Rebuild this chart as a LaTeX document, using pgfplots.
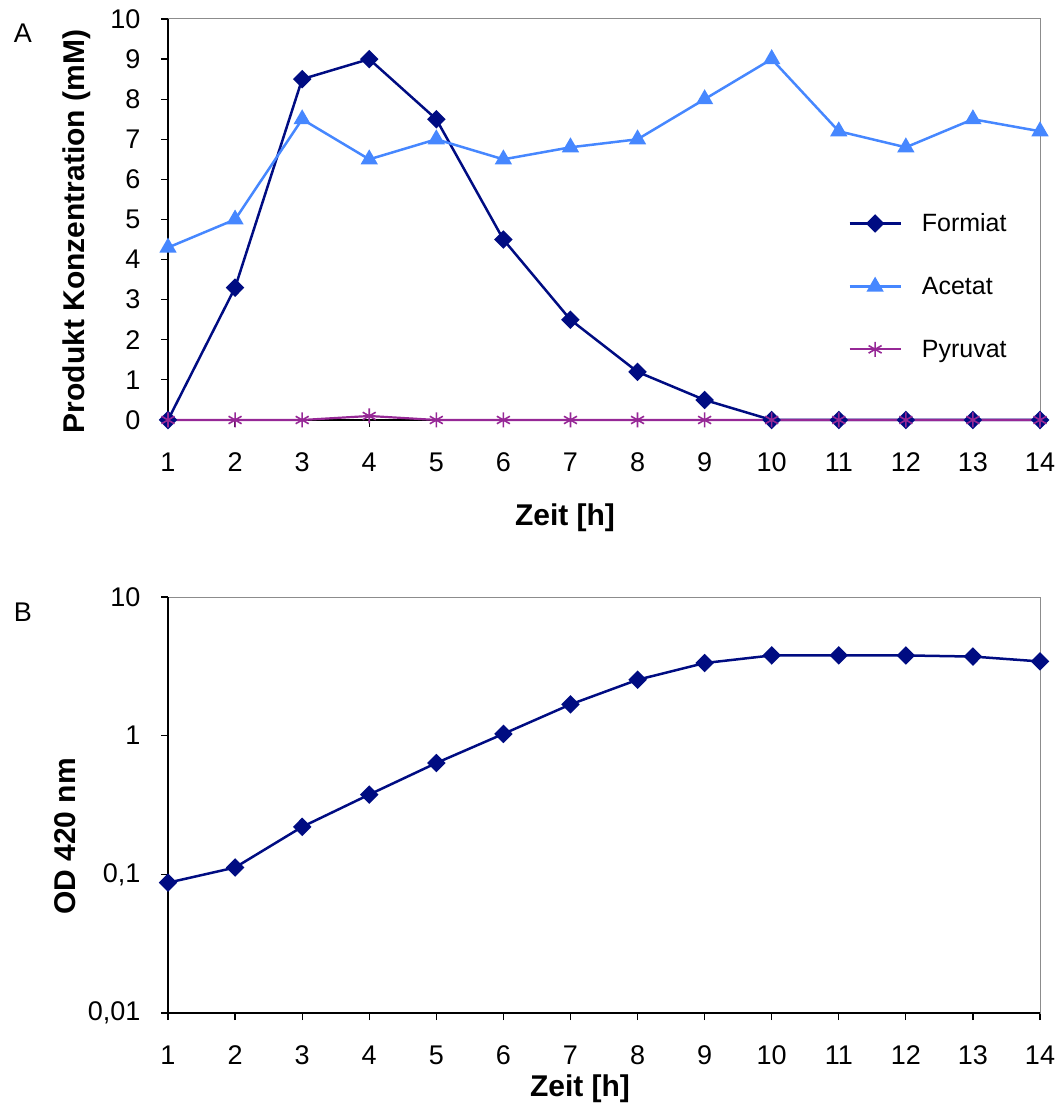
\documentclass[border=0pt]{standalone}
\usepackage{fontspec}
\setmainfont{Liberation Sans}
\usepackage{pgfplots}
\pgfplotsset{compat=1.18}
\definecolor{formiat}{RGB}{0,12,130}
\definecolor{acetat}{RGB}{70,135,255}
\definecolor{pyruvat}{RGB}{150,40,150}
\definecolor{frame}{RGB}{140,140,140}
\begin{document}
\begin{tikzpicture}
\useasboundingbox (0pt,0pt) rectangle (1059pt,1103pt);
\pgfplotsset{
  every axis/.append style={
    scale only axis, width=872pt,
    xmin=1, xmax=14, xtick={1,...,14},
    tick align=outside, major tick length=7pt,
    xtick pos=bottom, ytick pos=left,
    axis line style={draw=frame, line width=1pt},
    every tick/.style={draw=black, line width=1.2pt},
    xticklabel style={font=\fontsize{27}{30}\selectfont, yshift=-22pt},
    yticklabel style={font=\fontsize{27}{30}\selectfont, xshift=-17pt},
    /pgf/number format/assume math mode=true,
    clip=false,
  },
  fstyle/.style={color=formiat, line width=2.5pt, mark=diamond*, mark size=7.5pt, mark options={solid, xscale=1.33}},
  astyle/.style={color=acetat, line width=2.5pt, mark=triangle*, mark size=7.5pt, mark options={solid}},
  pstyle/.style={color=pyruvat, line width=2.2pt, mark=asterisk, mark size=7.5pt, mark options={solid, line width=1.6pt}},
}
% Panel A
\begin{axis}[
  at={(168pt,683pt)}, anchor=south west, height=401pt,
  ymin=0, ymax=10, ytick={0,...,10},
  legend style={draw=none, fill=none, at={(rel axis cs:0.78,0.52)}, anchor=north west,
    font=\fontsize{25}{30}\selectfont, row sep=40pt, inner sep=0pt,
    /tikz/every odd column/.append style={column sep=18pt}},
  legend cell align=left,
  legend image code/.code={\draw[mark repeat=2,mark phase=2,#1] plot coordinates {(0pt,0pt) (25.5pt,0pt) (51pt,0pt)};},
]
\draw[black, line width=1.2pt] (rel axis cs:0,1) -- (rel axis cs:0,0) -- (rel axis cs:1,0);
\addplot[fstyle] coordinates {(1,0) (2,3.3) (3,8.5) (4,9.0) (5,7.5) (6,4.5) (7,2.5) (8,1.2) (9,0.5) (10,0) (11,0) (12,0) (13,0) (14,0)};
\addlegendentry{Formiat}
\addplot[astyle] coordinates {(1,4.3) (2,5.0) (3,7.5) (4,6.5) (5,7.0) (6,6.5) (7,6.8) (8,7.0) (9,8.0) (10,9.0) (11,7.2) (12,6.8) (13,7.5) (14,7.2)};
\addlegendentry{Acetat}
\addplot[pstyle] coordinates {(1,0) (2,0) (3,0) (4,0.1) (5,0) (6,0) (7,0) (8,0) (9,0) (10,0) (11,0) (12,0) (13,0) (14,0)};
\addlegendentry{Pyruvat}
\end{axis}
% Panel B
\begin{axis}[
  at={(168pt,90pt)}, anchor=south west, height=416pt,
  ymode=log, ymin=0.01, ymax=10, ytick={0.01,0.1,1,10},
  yticklabels={0{,}01,0{,}1,1,10}, yminorticks=false,
]
\draw[black, line width=1.2pt] (rel axis cs:0,1) -- (rel axis cs:0,0) -- (rel axis cs:1,0);
\addplot[fstyle] coordinates {(1,0.087) (2,0.112) (3,0.22) (4,0.376) (5,0.635) (6,1.03) (7,1.68) (8,2.53) (9,3.34) (10,3.79) (11,3.79) (12,3.79) (13,3.72) (14,3.43)};
\end{axis}
% labels
\node[font=\fontsize{27}{30}\selectfont] at (23pt,1070pt) {A};
\node[font=\fontsize{27}{30}\selectfont] at (23pt,491pt) {B};
\node[rotate=90, font=\bfseries\fontsize{30}{34}\selectfont] at (77pt,871.5pt) {Produkt Konzentration (mM)};
\node[rotate=90, font=\bfseries\fontsize{30}{34}\selectfont] at (65pt,266.5pt) {OD 420 nm};
\node[font=\bfseries\fontsize{30}{34}\selectfont] at (565pt,585pt) {Zeit [h]};
\node[font=\bfseries\fontsize{30}{34}\selectfont] at (580pt,14pt) {Zeit [h]};
\end{tikzpicture}
\end{document}
